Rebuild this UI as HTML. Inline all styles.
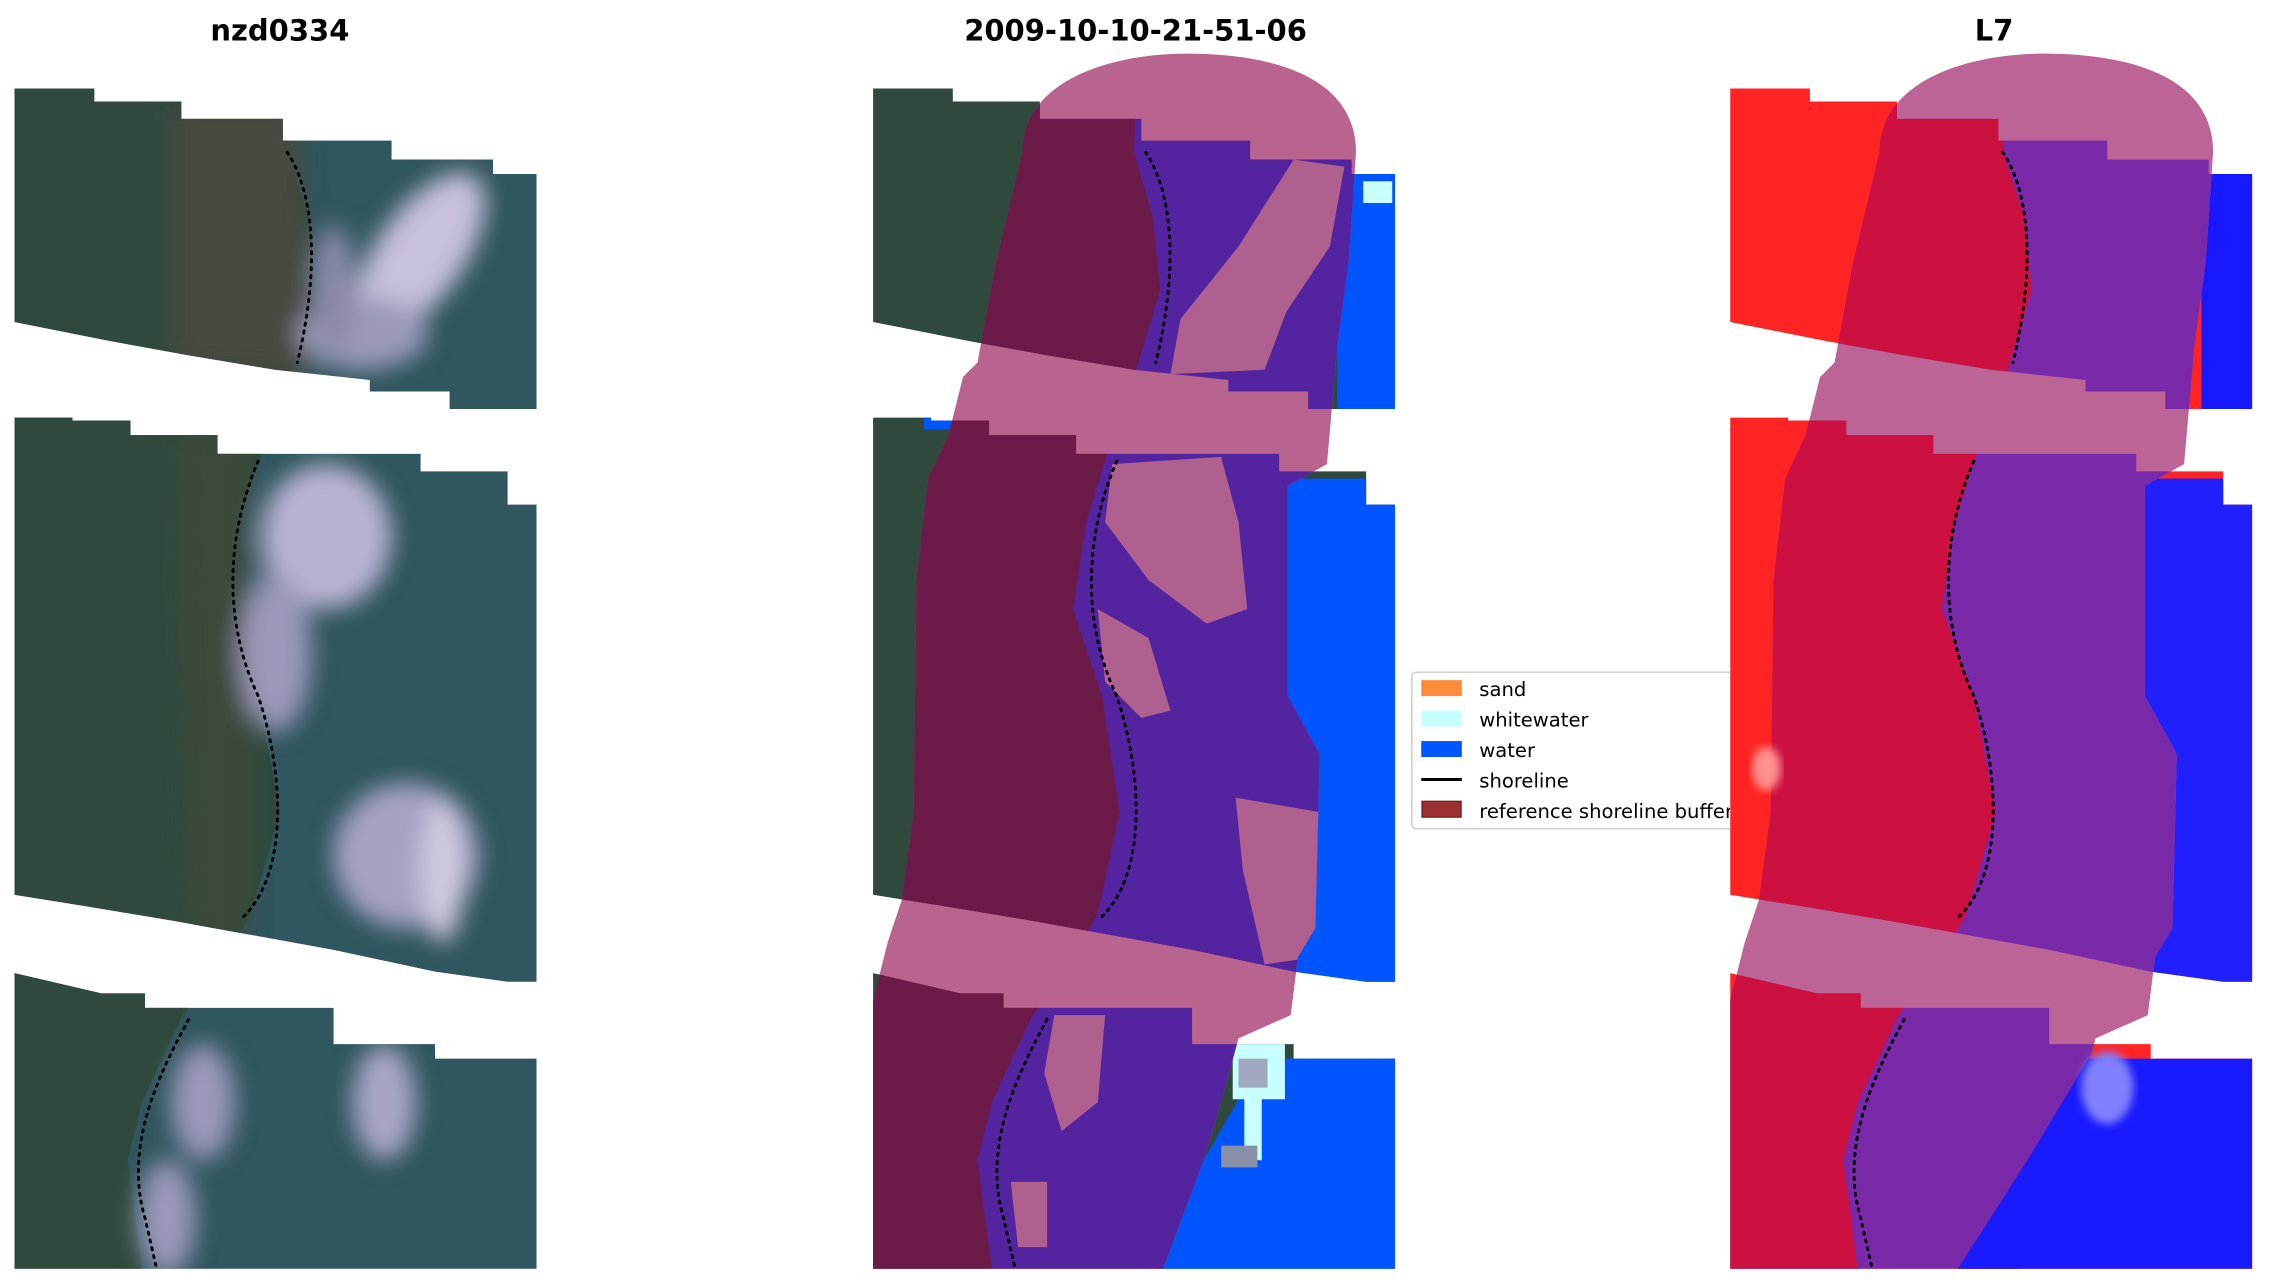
<!DOCTYPE html>
<html><head><meta charset="utf-8"><style>html,body{margin:0;padding:0;background:#fff}svg{display:block}</style></head><body>
<svg width="2274" height="1283" viewBox="0 0 1568 884.7" preserveAspectRatio="none" xmlns="http://www.w3.org/2000/svg" font-family="DejaVu Sans, Liberation Sans, sans-serif">
<defs>
<clipPath id="st"><polygon points="10,61 65,61 65,70 125,70 125,82 195,82 195,97 270,97 270,110 340,110 340,120 370,120 370,282 310,282 310,270 255,270 255,262 190,255 130,245 75,235 10,222"/><polygon points="10,277 10,288 50,288 50,290 90,290 90,300 150,300 150,313 290,313 290,325 350,325 350,348 370,348 370,677 350,677 300,670 230,655 120,635 60,625 10,617"/><polygon points="10,671 70,685 100,685 100,695 230,695 230,720 300,720 300,730 370,730 370,875 10,875"/></clipPath>
<clipPath id="bf"><path d="M113,105 C113,55 175,37 226,37 C290,37 343,55 343,105 L338,180 L330,240 L323,320 L296,335 L296,480 L318,520 L315,640 L303,660 L298,700 L262,716 L250,760 L238,800 L210,875 L10,875 L10,690 L20,650 L30,620 L38,560 L40,400 L48,330 L62,300 L72,260 L82,250 L95,180 Z"/></clipPath>
<path id="bfp" d="M113,105 C113,55 175,37 226,37 C290,37 343,55 343,105 L338,180 L330,240 L323,320 L296,335 L296,480 L318,520 L315,640 L303,660 L298,700 L262,716 L250,760 L238,800 L210,875 L10,875 L10,690 L20,650 L30,620 L38,560 L40,400 L48,330 L62,300 L72,260 L82,250 L95,180 Z"/>
<polygon id="land" points="10,0 200,0 198,105 213,150 218,200 203,250 190,290 178,318 165,360 156,420 178,480 193,560 173,630 150,670 126,700 98,760 88,800 98,875 10,875"/>
<filter id="bl"><feGaussianBlur stdDeviation="8"/></filter>
<filter id="bl2"><feGaussianBlur stdDeviation="3"/></filter>
</defs>
<g font-weight="bold" font-size="20" text-anchor="middle" fill="#000">
<text x="193" y="28">nzd0334</text><text x="783" y="28">2009-10-10-21-51-06</text><text x="1375" y="28">L7</text></g>

<!-- LEFT PANEL -->
<g clip-path="url(#st)">
<rect x="0" y="0" width="400" height="900" fill="#30565f"/>
<use href="#land" fill="#2f4a3d"/>
<g filter="url(#bl)">
<path d="M120,70 L205,70 L215,260 L120,250 Z" fill="#4a4a40"/>
<path d="M125,300 L170,300 L170,650 L130,640 Z" fill="#3c4a3a"/>
<ellipse cx="290" cy="175" rx="30" ry="65" fill="#c8c0dc" transform="rotate(35 290 175)"/>
<ellipse cx="250" cy="230" rx="45" ry="25" fill="#9a9ab8"/>
<ellipse cx="230" cy="200" rx="15" ry="45" fill="#8a8aa8"/>
<ellipse cx="225" cy="370" rx="45" ry="50" fill="#b8b2d0"/>
<ellipse cx="190" cy="450" rx="25" ry="55" fill="#9a98b8"/>
<ellipse cx="280" cy="590" rx="50" ry="50" fill="#a6a2c2"/>
<ellipse cx="305" cy="600" rx="15" ry="50" fill="#d0c8e0"/>
<ellipse cx="140" cy="760" rx="22" ry="40" fill="#9a98b8"/>
<ellipse cx="265" cy="760" rx="22" ry="40" fill="#a8a6c4"/>
<ellipse cx="115" cy="840" rx="20" ry="40" fill="#9a98b8"/>
</g></g>

<!-- CENTER PANEL -->
<g transform="translate(592,0)">
<g clip-path="url(#st)">
<rect x="0" y="0" width="400" height="900" fill="#2f4a3d"/>
<rect x="330" y="100" width="50" height="200" fill="#0055ff"/>
<rect x="290" y="330" width="90" height="360" fill="#0055ff"/>
<polygon points="205,875 238,800 278,730 380,730 380,880" fill="#0055ff"/>
<rect x="258" y="718" width="36" height="40" fill="#c8ffff"/>
<rect x="266" y="755" width="12" height="45" fill="#c8ffff"/>
<rect x="262" y="730" width="20" height="20" fill="#a0a8c0"/>
<rect x="250" y="790" width="25" height="15" fill="#8890a8"/>
<rect x="348" y="125" width="20" height="15" fill="#c8ffff"/>
<rect x="45" y="288" width="25" height="8" fill="#0055ff"/>
</g>
<use href="#bfp" fill="#b9638f"/>
<g clip-path="url(#bf)"><g clip-path="url(#st)">
<rect x="0" y="0" width="400" height="900" fill="#5424a0"/>
<polygon points="10,0 192,0 190,105 203,150 208,200 193,250 180,290 170,318 157,360 148,420 168,480 180,560 165,630 142,670 120,700 92,760 82,800 92,875 10,875" fill="#6c1b48"/>
<g fill="#b0608f">
<polygon points="300,110 335,115 325,170 295,215 280,255 215,258 222,220 262,170"/>
<polygon points="175,320 250,315 262,360 268,420 240,430 200,400 170,360"/>
<polygon points="165,420 200,440 215,490 195,495 170,470"/>
<polygon points="260,550 318,560 325,610 315,660 280,665 265,600"/>
<polygon points="135,700 170,700 165,760 140,780 128,740"/>
<polygon points="105,815 130,815 130,860 110,860"/>
</g></g></g>
<path d="M198,105 C215,130 222,180 205,250 M178,318 C160,360 150,420 178,480 C195,530 200,600 168,632 M130,703 C110,740 85,790 100,840 L108,875" fill="none" stroke="#000" stroke-width="2" stroke-dasharray="1.5 4" stroke-linecap="round"/>
</g>

<!-- LEGEND -->
<rect x="973.5" y="463.5" width="230" height="108" rx="3" fill="#fff" stroke="#ccc" stroke-width="1"/>
<g font-size="13.5" fill="#000">
<rect x="980" y="469" width="28" height="11" fill="#ff8c3a"/><text x="1020" y="480">sand</text>
<rect x="980" y="490" width="28" height="11" fill="#c8ffff"/><text x="1020" y="501">whitewater</text>
<rect x="980" y="511" width="28" height="11" fill="#0055ff"/><text x="1020" y="522">water</text>
<line x1="980" y1="537.5" x2="1008" y2="537.5" stroke="#000" stroke-width="2"/><text x="1020" y="543">shoreline</text>
<rect x="980.5" y="552.5" width="27" height="11" fill="#9a3030" stroke="#6a1a1a" stroke-width="0.8"/><text x="1020" y="564">reference shoreline buffer</text>
</g>

<!-- RIGHT PANEL -->
<g transform="translate(1183,0)">
<rect x="10" y="30" width="370" height="855" fill="#fff"/>
<g clip-path="url(#st)">
<rect x="0" y="0" width="400" height="900" fill="#ff2424"/>
<rect x="335" y="100" width="50" height="200" fill="#1818ff"/>
<rect x="285" y="330" width="90" height="360" fill="#2020ff"/>
</g>
<use href="#bfp" fill="#bb6495"/>
<g clip-path="url(#bf)"><g clip-path="url(#st)">
<rect x="0" y="0" width="400" height="900" fill="#7a2aa8"/>
<use href="#land" fill="#cc1040"/>
</g></g>
<g clip-path="url(#st)">
<polygon points="167,875 215,800 257,730 380,730 380,880" fill="#1a1aff"/>
<ellipse cx="270" cy="750" rx="18" ry="25" fill="#8080ff" filter="url(#bl2)"/>
<ellipse cx="35" cy="530" rx="10" ry="15" fill="#ff9090" filter="url(#bl2)"/>
</g>
<path d="M198,105 C215,130 222,180 205,250 M178,318 C160,360 150,420 178,480 C195,530 200,600 168,632 M130,703 C110,740 85,790 100,840 L108,875" fill="none" stroke="#000" stroke-width="2" stroke-dasharray="1.5 4" stroke-linecap="round"/>
</g>
<path d="M198,105 C215,130 222,180 205,250 M178,318 C160,360 150,420 178,480 C195,530 200,600 168,632 M130,703 C110,740 85,790 100,840 L108,875" fill="none" stroke="#000" stroke-width="2" stroke-dasharray="1.5 4" stroke-linecap="round"/>
</svg>
</body></html>
